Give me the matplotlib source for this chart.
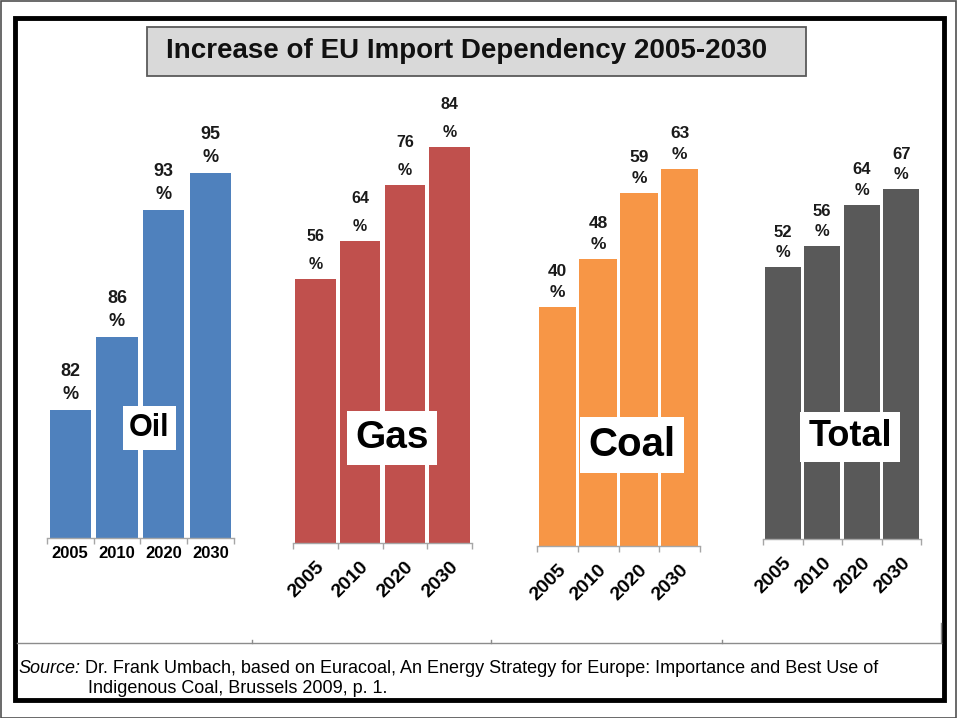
import matplotlib
matplotlib.use("Agg")
from matplotlib import pyplot as plt
from matplotlib.patches import Rectangle
from matplotlib.lines import Line2D

plt.rcParams["font.family"] = ["Liberation Sans", "DejaVu Sans"]

years = ["2005", "2010", "2020", "2030"]
oil = [82, 86, 93, 95]
gas = [56, 64, 76, 84]
coal = [40, 48, 59, 63]
total = [52, 56, 64, 67]

W, H = 957, 718
fig = plt.figure(figsize=(W / 100, H / 100), dpi=100)


def rect(x0, y0, x1, y1):
    # pixel box (top-left origin) -> figure fraction
    return [x0 / W, 1 - y1 / H, (x1 - x0) / W, (y1 - y0) / H]


def fx(x):
    return x / W


def fy(y):
    return 1 - y / H


# outer thin border and thick black frame
fig.add_artist(Rectangle((0.5 / W, 0.5 / H), 1 - 1.5 / W, 1 - 1.5 / H, transform=fig.transFigure,
                         fill=False, ec="#505050", lw=1.2))
fig.add_artist(Rectangle((fx(15), fy(700)), fx(944) - fx(15), fy(18) - fy(700),
                         transform=fig.transFigure, fill=False, ec="black", lw=3.5))

# title box
fig.add_artist(Rectangle((fx(147), fy(76)), fx(806) - fx(147), fy(27) - fy(76),
                         transform=fig.transFigure, fc="#d9d9d9", ec="#5a5a5a", lw=1.3))
fig.text(fx(467), fy(51.5), "Increase of EU Import Dependency 2005-2030",
         ha="center", va="center", fontsize=20, fontweight="bold", color="#111111")

# panels: values, color, pixel box, ylim, bar width, name, label box, name size,
# rotated ticks, value label line spacing, value label size
panels = [
    (oil, "#4f81bd", (46.7, 100, 234, 538), (75, 99), 0.88, "Oil", (149.5, 428), 22, False, 1.45, 13),
    (gas, "#c0504d", (293, 100, 472, 543), (0, 94), 0.90, "Gas", (392, 438), 28, True, 2.1, 11.5),
    (coal, "#f79646", (537, 100, 700, 546), (0, 74.5), 0.92, "Coal", (632, 445), 29, True, 1.5, 12.5),
    (total, "#595959", (763, 100, 921, 539), (0, 84), 0.91, "Total", (850, 437), 26, True, 1.45, 12),
]

for vals, color, box, ylim, bw, name, lbl, nsize, rotate, lsp, vsize in panels:
    ax = fig.add_axes(rect(*box))
    x = list(range(len(years)))
    ax.bar(x, vals, width=bw, color=color, zorder=2)
    ax.set_xlim(-0.5, len(years) - 0.5)
    ax.set_ylim(*ylim)
    ax.patch.set_visible(False)
    for s in ["top", "left", "right"]:
        ax.spines[s].set_visible(False)
    ax.spines["bottom"].set_color("#a6a6a6")
    ax.spines["bottom"].set_linewidth(1.0)
    ax.set_yticks([])
    ax.set_xticks(x)
    ax.set_xticks([i - 0.5 for i in range(len(years) + 1)], minor=True)
    ax.tick_params(axis="x", which="major", length=0)
    ax.tick_params(axis="x", which="minor", length=4, color="#a6a6a6", width=1.0)
    if rotate:
        ax.set_xticklabels(years, rotation=45, ha="right", va="top",
                           rotation_mode="anchor", fontsize=14, fontweight="bold")
        ax.tick_params(axis="x", which="major", pad=11)
    else:
        ax.set_xticklabels(years, fontsize=12, fontweight="bold")
        ax.tick_params(axis="x", which="major", pad=6)

    for xi, v in zip(x, vals):
        ax.annotate(f"{v}\n%", (xi, v), xytext=(0, 5), textcoords="offset points",
                    ha="center", va="bottom", fontsize=vsize, fontweight="bold",
                    linespacing=lsp, color="#1a1a1a")

    fig.text(fx(lbl[0]), fy(lbl[1]), name, ha="center", va="center",
             fontsize=nsize, fontweight="bold", color="black",
             bbox=dict(boxstyle="square,pad=0.22", fc="white", ec="none"))

# separator between chart and source note
fig.add_artist(Line2D([fx(17), fx(941)], [fy(643), fy(643)], transform=fig.transFigure,
                      color="#8c8c8c", lw=1.0))
for tx in [252, 491, 722]:
    fig.add_artist(Line2D([fx(tx), fx(tx)], [fy(643), fy(640)], transform=fig.transFigure,
                          color="#8c8c8c", lw=1.0))
fig.add_artist(Line2D([fx(941), fx(941)], [fy(623), fy(643)], transform=fig.transFigure,
                      color="#8c8c8c", lw=1.0))

src = fig.text(fx(18), fy(673), "Source:", ha="left", va="baseline",
               fontsize=13, fontstyle="italic", color="black")
plt.annotate(" Dr. Frank Umbach, based on Euracoal, An Energy Strategy for Europe: "
             "Importance and Best Use of", xy=(1, 0), xycoords=src,
             ha="left", va="bottom", fontsize=13, color="black", annotation_clip=False)
fig.text(fx(88), fy(693), "Indigenous Coal, Brussels 2009, p. 1.", ha="left",
         va="baseline", fontsize=13, color="black")

fig.savefig("out.png", dpi=100)
